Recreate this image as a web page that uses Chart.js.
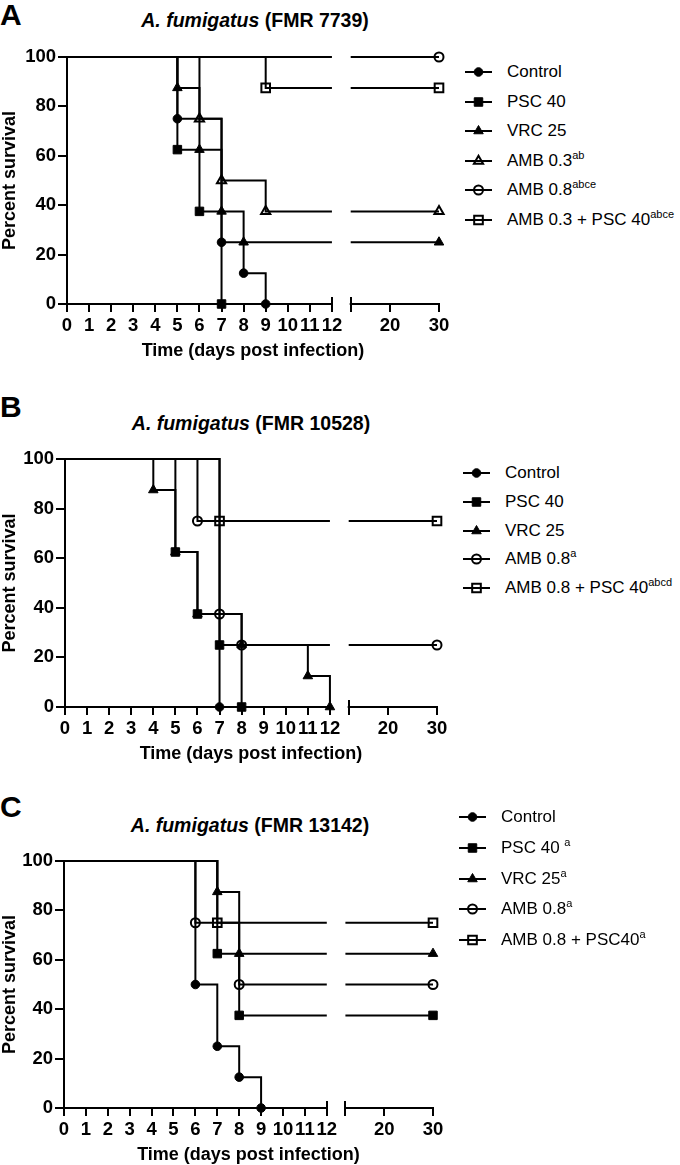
<!DOCTYPE html>
<html>
<head>
<meta charset="utf-8">
<script src="https://cdn.jsdelivr.net/npm/chart.js@4.4.1/dist/chart.umd.min.js"></script>
<style>
html,body{margin:0;padding:0;background:#fff;overflow:hidden;}
body{width:680px;height:1165px;position:relative;font-family:"Liberation Sans",Arial,sans-serif;color:#000;}
.letter{position:absolute;left:0;font-weight:bold;font-size:30px;line-height:30px;}
.title{position:absolute;width:400px;text-align:center;font-weight:bold;font-size:19.5px;line-height:24px;white-space:nowrap;}
canvas.plot{position:absolute;left:0;}
.row{position:absolute;width:220px;height:20px;}
.row canvas{position:absolute;left:0;top:2px;}
.row span{position:absolute;left:42px;top:0;font-size:17px;line-height:20px;white-space:nowrap;}
.row sup{font-size:11px;line-height:0;vertical-align:baseline;position:relative;top:-7px;}
</style>
</head>
<body>
<script>
// ================= DATA =================
const SPECIES = 'A. fumigatus';
const STRAINS = ['(FMR 7739)', '(FMR 10528)', '(FMR 13142)'];
const PANEL_LETTERS = ['A', 'B', 'C'];

const X_TICK_DAYS = [0,1,2,3,4,5,6,7,8,9,10,11,12,20,30];
const X_TICK_LABELS = ['0','1','2','3','4','5','6','7','8','9','10','11','12','20','30'];
const Y_TICKS = [0,20,40,60,80,100];
const BREAK_DAY = 12;
const END_DAY = 30;
const X_TITLE = 'Time (days post infection)';
const Y_TITLE = 'Percent survival';

// Panel A  (FMR 7739) - Kaplan-Meier events: day of death -> percent surviving
const A_LABELS = ['Control','PSC 40','VRC 25','AMB 0.3','AMB 0.8','AMB 0.3 + PSC 40'];
const A_SUPS   = ['','','','ab','abce','abce'];
const A_DAYS   = [[5,7,8,9],[5,6,7],[5,6,7,8],[6,7,9],[],[9]];
const A_SURV   = [[75,25,12.5,0],[62.5,37.5,0],[87.5,62.5,37.5,25],[75,50,37.5],[],[87.5]];

// Panel B  (FMR 10528)
const B_LABELS = ['Control','PSC 40','VRC 25','AMB 0.8','AMB 0.8 + PSC 40'];
const B_SUPS   = ['','','','a','abcd'];
const B_DAYS   = [[7],[5,6,7,8],[4,5,6,8,11,12],[6,7,8],[7]];
const B_SURV   = [[0],[62.5,37.5,25,0],[87.5,62.5,37.5,25,12.5,0],[75,37.5,25],[75]];

// Panel C  (FMR 13142)
const C_LABELS = ['Control','PSC 40 ','VRC 25','AMB 0.8','AMB 0.8 + PSC40'];
const C_SUPS   = ['','a','a','a','a'];
const C_DAYS   = [[6,7,8,9],[7,8],[7,8],[6,8],[7]];
const C_SURV   = [[50,25,12.5,0],[62.5,37.5],[87.5,62.5],[75,50],[75]];

// ================= STYLE / LAYOUT =================
const FONT = '"Liberation Sans", Arial, sans-serif';
const MARKERS = {
  fc: {style:'circle',   fill:true,  r:4.3},
  fs: {style:'rect',     fill:true,  r:6.0},
  ft: {style:'triangle', fill:true,  r:5.5},
  ot: {style:'triangle', fill:false, r:5.3},
  oc: {style:'circle',   fill:false, r:4.5},
  os: {style:'rect',     fill:false, r:6.1}
};
// broken axis: 0-12 at full scale, small gap, 12-30 compressed
const GAP_U = 0.85, SEG2_LEN_U = 4.0;
function u(d){ return d <= BREAK_DAY ? d : BREAK_DAY + GAP_U + (d - BREAK_DAY) * SEG2_LEN_U / (END_DAY - BREAK_DAY); }
const SEG2_START = BREAK_DAY + GAP_U;

const PANELS = [
  {labels:A_LABELS, sups:A_SUPS, days:A_DAYS, surv:A_SURV, mk:['fc','fs','ft','ot','oc','os'],
   g:{top:57, h:247, left:67, right:439, titleX:255, titleY:20, letterTop:0, legX:465, legY:72, legStep:29.5}},
  {labels:B_LABELS, sups:B_SUPS, days:B_DAYS, surv:B_SURV, mk:['fc','fs','ft','oc','os'],
   g:{top:459, h:248, left:65, right:437, titleX:251, titleY:423, letterTop:392, legX:463, legY:473, legStep:28.75}},
  {labels:C_LABELS, sups:C_SUPS, days:C_DAYS, surv:C_SURV, mk:['fc','fs','ft','oc','os'],
   g:{top:861, h:247, left:64, right:433, titleX:250, titleY:825, letterTop:792, legX:459, legY:817, legStep:30.75}}
];

function kmPoints(days, surv){
  const pts = [{x:0, y:100, m:0}];
  let s = 100;
  days.forEach((d, i) => { pts.push({x:u(d), y:surv[i], m:1}); s = surv[i]; });
  if (s > 0) {
    pts.push({x:u(BREAK_DAY), y:s, m:0});
    pts.push({x:(u(BREAK_DAY) + SEG2_START) / 2, y:null, m:0});
    pts.push({x:SEG2_START, y:s, m:0});
    pts.push({x:u(END_DAY), y:s, m:1});
  }
  return pts;
}

const brokenAxis = {
  id:'brokenAxis',
  beforeDatasetsDraw(chart){
    const {ctx, chartArea, scales:{x}} = chart;
    const y = Math.round(chartArea.bottom);
    const p0 = x.getPixelForValue(0), p12 = x.getPixelForValue(u(BREAK_DAY));
    const p12b = x.getPixelForValue(SEG2_START), pEnd = x.getPixelForValue(u(END_DAY));
    ctx.save();
    ctx.strokeStyle = '#000'; ctx.lineWidth = 2;
    ctx.beginPath();
    ctx.moveTo(p0 - 1, y); ctx.lineTo(p12 + 1, y);
    ctx.moveTo(p12b - 1, y); ctx.lineTo(pEnd + 1, y);
    [p12, p12b].forEach(p => { ctx.moveTo(Math.round(p), y - 7); ctx.lineTo(Math.round(p), y + 8); });
    ctx.stroke();
    ctx.restore();
  }
};

function drawIcon(cv, mk){
  const c = cv.getContext('2d');
  c.strokeStyle = '#000'; c.lineWidth = 2;
  c.beginPath(); c.moveTo(0, 8); c.lineTo(27, 8); c.stroke();
  c.fillStyle = mk.fill ? '#000' : 'rgba(0,0,0,0)';
  c.lineWidth = mk.fill ? 1 : 2;
  Chart.helpers.drawPoint(c, {pointStyle:mk.style, radius:mk.r, rotation:0, borderWidth:c.lineWidth}, 13.5, 8);
}

PANELS.forEach((P, pi) => {
  const g = P.g;
  // panel letter
  const L = document.createElement('div');
  L.className = 'letter'; L.style.top = g.letterTop + 'px'; L.textContent = PANEL_LETTERS[pi];
  document.body.appendChild(L);
  // title
  const T = document.createElement('div');
  T.className = 'title';
  T.style.left = (g.titleX - 200) + 'px'; T.style.top = (g.titleY - 12) + 'px';
  const it = document.createElement('i'); it.textContent = SPECIES;
  T.appendChild(it); T.appendChild(document.createTextNode(' ' + STRAINS[pi]));
  document.body.appendChild(T);
  // chart canvas
  const cv = document.createElement('canvas');
  cv.className = 'plot';
  const H = 57 + g.h + 61;
  cv.width = 460; cv.height = H;
  cv.style.top = (g.top - 57) + 'px';
  document.body.appendChild(cv);

  const datasets = P.labels.map((lab, i) => {
    const mk = MARKERS[P.mk[i]];
    return {
      label: lab,
      data: kmPoints(P.days[i], P.surv[i]),
      stepped: 'before',
      spanGaps: false,
      borderColor: '#000',
      borderWidth: 2,
      fill: false,
      clip: false,
      pointStyle: mk.style,
      pointRadius: c => (c.raw && c.raw.m ? mk.r : 0),
      pointHoverRadius: c => (c.raw && c.raw.m ? mk.r : 0),
      pointBackgroundColor: mk.fill ? '#000' : 'rgba(0,0,0,0)',
      pointBorderColor: '#000',
      pointBorderWidth: mk.fill ? 1 : 2
    };
  });

  new Chart(cv, {
    type: 'line',
    data: {datasets},
    options: {
      responsive: false, animation: false, events: [],
      layout: {padding: {top: 57, left: 0, right: 460 - g.right, bottom: 0}},
      plugins: {legend: {display: false}, tooltip: {enabled: false}},
      scales: {
        x: {
          type: 'linear', min: 0, max: u(END_DAY),
          afterBuildTicks: s => { s.ticks = X_TICK_DAYS.map(d => ({value: u(d)})); },
          afterFit: s => { s.height = 61; },
          ticks: {autoSkip: false, maxRotation: 0, minRotation: 0, padding: 3, color: '#000',
                  font: {family: FONT, size: 18.5, weight: 'bold'},
                  callback: (v, i) => X_TICK_LABELS[i]},
          grid: {drawOnChartArea: false, drawTicks: true, tickLength: 8, lineWidth: 2, color: '#000'},
          border: {display: false},
          title: {display: true, text: X_TITLE, color: '#000',
                  font: {family: FONT, size: 18, weight: 'bold', lineHeight: 1.2},
                  padding: {top: 0, bottom: 3}}
        },
        y: {
          type: 'linear', min: 0, max: 100,
          afterBuildTicks: s => { s.ticks = Y_TICKS.map(v => ({value: v})); },
          afterFit: s => { s.width = g.left; },
          ticks: {padding: 2, color: '#000', font: {family: FONT, size: 18.5, weight: 'bold'}},
          grid: {drawOnChartArea: false, drawTicks: true, tickLength: 9, lineWidth: 2, color: '#000'},
          border: {display: true, width: 2, color: '#000'},
          title: {display: true, text: Y_TITLE, color: '#000',
                  font: {family: FONT, size: 18, weight: 'bold', lineHeight: 1},
                  padding: {top: 1, bottom: 0}}
        }
      }
    },
    plugins: [brokenAxis]
  });

  // legend
  P.labels.forEach((lab, i) => {
    const row = document.createElement('div');
    row.className = 'row';
    row.style.left = g.legX + 'px';
    row.style.top = (g.legY + i * g.legStep - 10) + 'px';
    const ic = document.createElement('canvas');
    ic.width = 28; ic.height = 16;
    row.appendChild(ic);
    const sp = document.createElement('span');
    sp.textContent = lab;
    if (P.sups[i]) { const su = document.createElement('sup'); su.textContent = P.sups[i]; sp.appendChild(su); }
    row.appendChild(sp);
    document.body.appendChild(row);
    drawIcon(ic, MARKERS[P.mk[i]]);
  });
});
</script>
</body>
</html>
